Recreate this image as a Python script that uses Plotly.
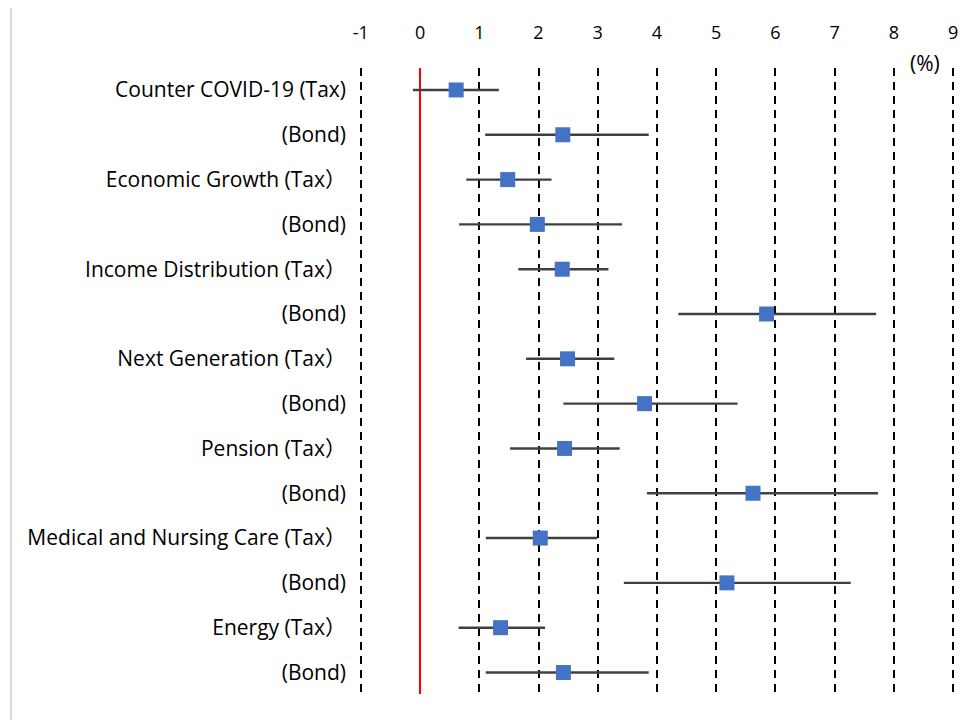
import plotly.graph_objects as go

labels = [
    "Counter COVID-19 (Tax)", "(Bond)",
    "Economic Growth (Tax）", "(Bond)",
    "Income Distribution (Tax）", "(Bond)",
    "Next Generation (Tax）", "(Bond)",
    "Pension (Tax）", "(Bond)",
    "Medical and Nursing Care (Tax）", "(Bond)",
    "Energy (Tax）", "(Bond)",
]
estimate = [0.61, 2.41, 1.48, 1.98, 2.40, 5.85, 2.49, 3.79, 2.44, 5.62, 2.03, 5.18, 1.36, 2.42]
lower = [-0.12, 1.10, 0.78, 0.66, 1.66, 4.36, 1.79, 2.42, 1.52, 3.83, 1.11, 3.44, 0.65, 1.11]
upper = [1.33, 3.86, 2.22, 3.41, 3.18, 7.70, 3.28, 5.36, 3.37, 7.73, 2.99, 7.27, 2.11, 3.86]
x_ticks = [-1, 0, 1, 2, 3, 4, 5, 6, 7, 8, 9]

rows = list(range(len(labels)))
err_plus = [u - e for u, e in zip(upper, estimate)]
err_minus = [e - l for e, l in zip(estimate, lower)]

fig = go.Figure()
fig.add_trace(go.Scatter(
    x=estimate, y=rows, mode="markers",
    marker=dict(symbol="square", size=15, color="#4472C4"),
    error_x=dict(type="data", symmetric=False, array=err_plus, arrayminus=err_minus,
                 color="#404040", thickness=2.4, width=0),
    showlegend=False,
))

font_family = "Open Sans, Noto Sans CJK JP, sans-serif"

fig.update_layout(
    width=962, height=712,
    margin=dict(l=351, r=12, t=60, b=26),
    paper_bgcolor="white", plot_bgcolor="white",
    font=dict(family=font_family, size=18, color="#000000"),
    xaxis=dict(
        side="top", range=[-1.03, 9.03], tickvals=x_ticks,
        ticktext=[str(v) for v in x_ticks],
        showgrid=True, gridcolor="#000000", gridwidth=2, griddash="8px,6px",
        zeroline=True, zerolinecolor="#ff0000", zerolinewidth=2,
        showline=False, ticks="", ticklabelstandoff=24,
        tickfont=dict(size=18, family=font_family),
    ),
    yaxis=dict(
        range=[13.48, -0.49], tickvals=rows, ticktext=labels,
        showgrid=False, zeroline=False, showline=False, ticks="",
        ticklabelstandoff=12,
        tickfont=dict(size=21, family=font_family),
    ),
    annotations=[dict(text="(%)", xref="paper", yref="paper", x=0.95, y=1.0,
                      xanchor="center", yanchor="middle", yshift=5, showarrow=False,
                      font=dict(size=21, family=font_family))],
    shapes=[dict(type="line", xref="paper", yref="paper", x0=-0.584, x1=-0.584,
                 y0=-0.05, y1=1.1, line=dict(color="#d9d9d9", width=2))],
)

fig.write_html("out.html")
